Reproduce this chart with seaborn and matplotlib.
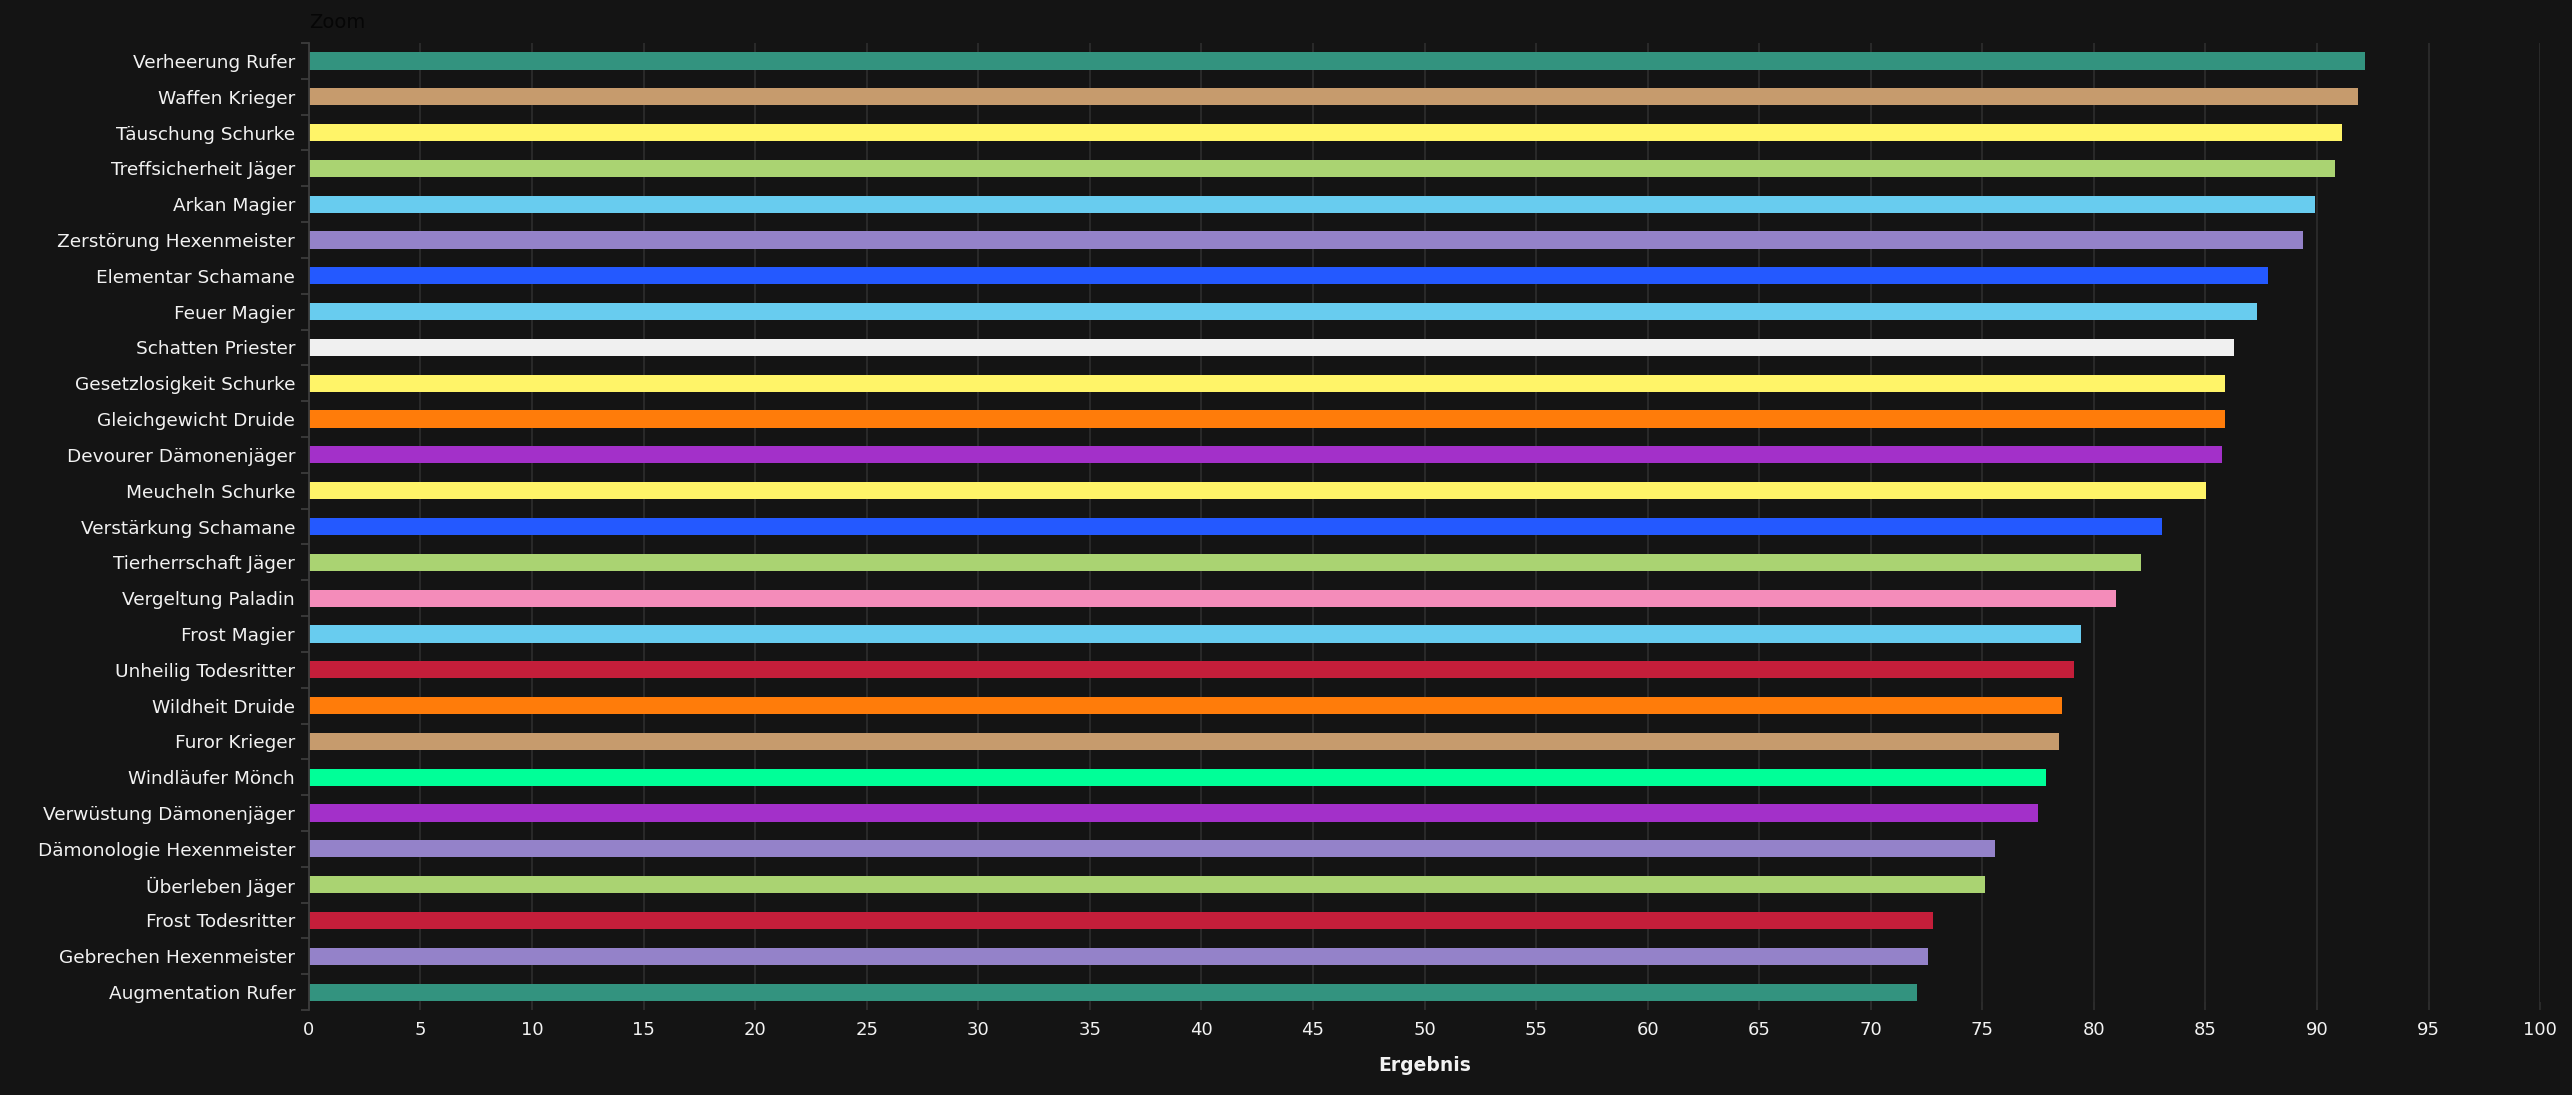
import matplotlib
matplotlib.use("Agg")
import matplotlib.pyplot as plt
import seaborn as sns
import pandas as pd
import numpy as np

specs = [
    "Verheerung Rufer", "Waffen Krieger", "Täuschung Schurke", "Treffsicherheit Jäger",
    "Arkan Magier", "Zerstörung Hexenmeister", "Elementar Schamane", "Feuer Magier",
    "Schatten Priester", "Gesetzlosigkeit Schurke", "Gleichgewicht Druide",
    "Devourer Dämonenjäger", "Meucheln Schurke", "Verstärkung Schamane",
    "Tierherrschaft Jäger", "Vergeltung Paladin", "Frost Magier", "Unheilig Todesritter",
    "Wildheit Druide", "Furor Krieger", "Windläufer Mönch", "Verwüstung Dämonenjäger",
    "Dämonologie Hexenmeister", "Überleben Jäger", "Frost Todesritter",
    "Gebrechen Hexenmeister", "Augmentation Rufer",
]
scores = [
    92.16, 91.83, 91.12, 90.81, 89.93, 89.38, 87.80, 87.31, 86.28, 85.88, 85.88,
    85.73, 85.01, 83.06, 82.11, 81.01, 79.42, 79.11, 78.56, 78.43, 77.86, 77.48,
    75.58, 75.11, 72.81, 72.56, 72.09,
]
classes = [
    "Rufer", "Krieger", "Schurke", "Jäger", "Magier", "Hexenmeister", "Schamane",
    "Magier", "Priester", "Schurke", "Druide", "Dämonenjäger", "Schurke", "Schamane",
    "Jäger", "Paladin", "Magier", "Todesritter", "Druide", "Krieger", "Mönch",
    "Dämonenjäger", "Hexenmeister", "Jäger", "Todesritter", "Hexenmeister", "Rufer",
]
class_colors = {
    "Rufer": "#33937F", "Krieger": "#C69B6D", "Schurke": "#FFF468", "Jäger": "#AAD372",
    "Magier": "#68CCEF", "Hexenmeister": "#9482C9", "Schamane": "#2459FF",
    "Priester": "#F0F0F0", "Druide": "#FF7C0A", "Dämonenjäger": "#A330C9",
    "Paladin": "#F48CBA", "Todesritter": "#C41E3A", "Mönch": "#00FF98",
}

df = pd.DataFrame({"Spec": specs, "Ergebnis": scores, "Klasse": classes})
palette = {s: class_colors[c] for s, c in zip(specs, classes)}

BG = "#141414"
sns.set_theme(style="dark")
plt.rcParams["font.family"] = ["DejaVu Sans"]

fig = plt.figure(figsize=(25.72, 10.95), dpi=100, facecolor=BG)
ax = fig.add_axes([0.1201, 0.0776, 0.8675, 0.8831])
ax.set_facecolor(BG)

sns.barplot(data=df, y="Spec", x="Ergebnis", hue="Spec", palette=palette,
            order=specs, hue_order=specs, legend=False, width=0.48,
            saturation=1, orient="h", ax=ax, edgecolor="none")

ax.set_xlim(0, 100)
ax.set_ylim(len(specs) - 0.5, -0.5)
ax.set_xticks(np.arange(0, 101, 5))
ax.xaxis.grid(True, color="#2c2c2c", linewidth=1.3)
ax.yaxis.grid(False)
ax.set_axisbelow(True)

for side in ["top", "right", "bottom"]:
    ax.spines[side].set_visible(False)
ax.spines["left"].set_color("#3c3c3c")
ax.spines["left"].set_linewidth(1.3)

ax.set_yticks(np.arange(-0.5, len(specs), 1.0), minor=True)
ax.tick_params(axis="y", which="major", length=0, pad=10, labelsize=13.3, labelcolor="#f2f2f2")
ax.tick_params(axis="y", which="minor", length=6, width=1.3, color="#3c3c3c", left=True)
ax.tick_params(axis="x", which="major", length=6, width=1.3, color="#2c2c2c",
               direction="in", pad=8, labelsize=13, labelcolor="#f2f2f2", bottom=True)

ax.set_ylabel("")
ax.set_xlabel("Ergebnis", fontsize=13.5, fontweight="bold", color="#f2f2f2", labelpad=12)
ax.set_title("Zoom", loc="left", fontsize=14, color="#060606", pad=11)

fig.savefig("out.png", dpi=100, facecolor=BG)
